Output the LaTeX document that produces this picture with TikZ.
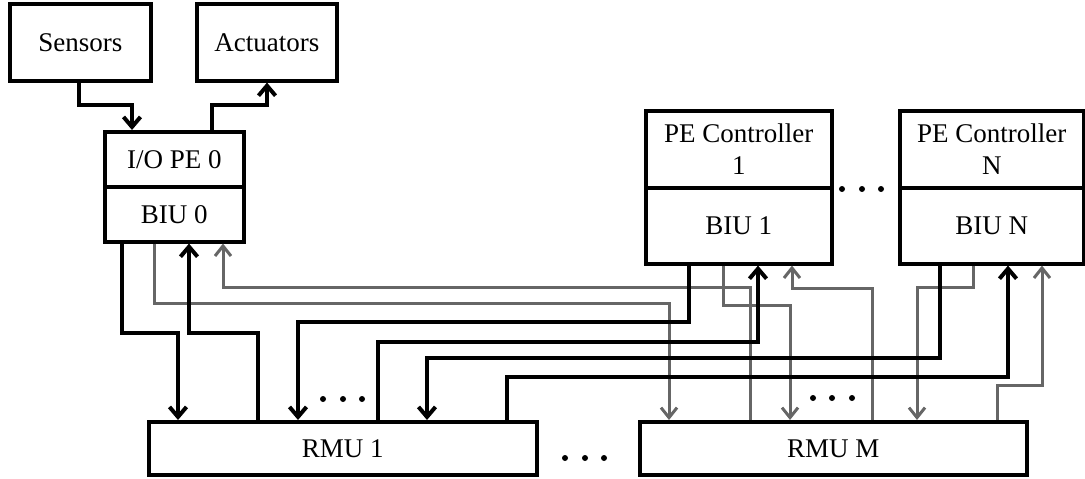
\documentclass[tikz,border=0pt]{standalone}
\usepackage{fontspec}
\setmainfont{Liberation Serif}
\usetikzlibrary{arrows.meta,calc}
\begin{document}
\begin{tikzpicture}[x=1pt,y=-1pt,
  box/.style={draw,line width=3.6pt,fill=white,anchor=north west,inner sep=0pt,
    font=\fontsize{27}{32}\selectfont,align=center},
  blk/.style={line width=4pt,-{Straight Barb[length=10pt,width=17pt]}},
  gry/.style={line width=3pt,draw=black!60,-{Straight Barb[length=10pt,width=16pt]}},
  dotc/.style={fill=black}]
\useasboundingbox (0,0) rectangle (1085,479);

% boxes
\node[box,minimum width=141pt,minimum height=77pt] (sensors) at (8,2) {Sensors};
\node[box,minimum width=140pt,minimum height=77pt] (actuators) at (195,2) {Actuators};
\node[box,minimum width=139pt,minimum height=55pt] (iope) at (103,130) {I/O PE 0};
\node[box,minimum width=139pt,minimum height=55pt] (biu0) at (103,185) {BIU 0};
\node[box,minimum width=186pt,minimum height=77pt] (pe1) at (644,109) {PE Controller\\1};
\node[box,minimum width=186pt,minimum height=76pt] (biu1) at (644,186) {BIU 1};
\node[box,minimum width=184pt,minimum height=77pt] (pen) at (898,109) {PE Controller\\N};
\node[box,minimum width=184pt,minimum height=76pt] (biun) at (898,186) {BIU N};
\node[box,minimum width=388pt,minimum height=53pt] (rmu1) at (147,420) {RMU 1};
\node[box,minimum width=387pt,minimum height=53pt] (rmum) at (638,420) {RMU M};

% sensors / actuators
\draw[blk] (sensors.south -| 79,0) |- (132,105) -- (iope.north -| 132,0);
\draw[blk] (iope.north -| 212,0) |- (267,105) -- (actuators.south -| 267,0);

% gray connectors
\draw[gry] (biu0.south -| 154,0) |- (669,303) -- (rmum.north -| 669,0);
\draw[gry] (rmum.north -| 750,0) |- (223,287) -- (biu0.south -| 223,0);
\draw[gry] (biu1.south -| 723,0) |- (790,305) -- (rmum.north -| 790,0);
\draw[gry] (rmum.north -| 872,0) |- (792,288) -- (biu1.south -| 792,0);
\draw[gry] (biun.south -| 973,0) |- (917,287) -- (rmum.north -| 917,0);
\draw[gry] (rmum.north -| 997,0) |- (1042,385) -- (biun.south -| 1042,0);

% black connectors
\draw[blk] (biu0.south -| 122,0) |- (178,333) -- (rmu1.north -| 178,0);
\draw[blk] (rmu1.north -| 258,0) |- (189,333) -- (biu0.south -| 189,0);
\draw[blk] (biu1.south -| 689,0) |- (298,322) -- (rmu1.north -| 298,0);
\draw[blk] (rmu1.north -| 378,0) |- (758,342) -- (biu1.south -| 758,0);
\draw[blk] (biun.south -| 940,0) |- (427,358) -- (rmu1.north -| 427,0);
\draw[blk] (rmu1.north -| 507,0) |- (1008,377) -- (biun.south -| 1008,0);

% dots
\foreach \x in {842,862,881} \fill[dotc] (\x,189) circle (3pt);
\foreach \x in {323,343,362} \fill[dotc] (\x,399) circle (3pt);
\foreach \x in {813,832,852} \fill[dotc] (\x,398) circle (3pt);
\foreach \x in {565,585,604} \fill[dotc] (\x,458) circle (3pt);
\end{tikzpicture}
\end{document}
